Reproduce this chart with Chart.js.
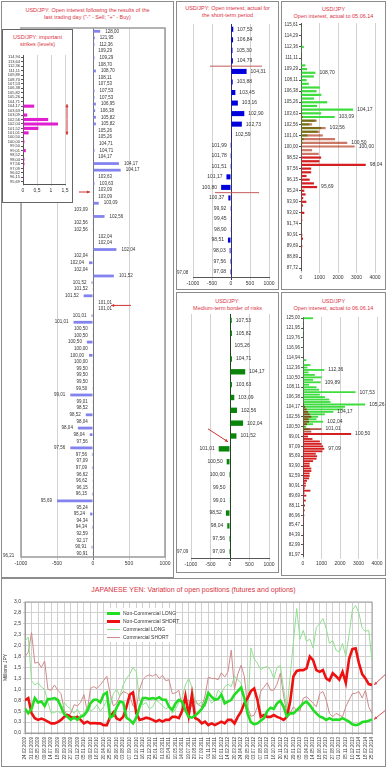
<!DOCTYPE html>
<html>
<head>
<meta charset="utf-8">
<title>USD/JPY open interest</title>
<script src="https://cdn.jsdelivr.net/npm/chart.js@4.4.1/dist/chart.umd.min.js"></script>
<style>
  html, body { margin: 0; padding: 0; background: #fff; }
  body { width: 387px; height: 768px; position: relative; overflow: hidden; font-family: "Liberation Sans", Arial, sans-serif; }
  .panel { position: absolute; border: 1px solid #8c8c8c; background: #fff; box-sizing: border-box; }
  .ttl { position: absolute; left: 0; right: 0; text-align: center; color: #d8333f; font-size: 5.5px; line-height: 6.5px; white-space: nowrap; }
  canvas { position: absolute; }
  .note { position: absolute; font-size: 4.5px; color: #333; white-space: nowrap; }
  .legend { position: absolute; left: 107px; top: 608px; width: 68px; height: 34px; background: #fff; }
  .legend div { position: absolute; left: 0; font-size: 5px; color: #333; white-space: nowrap; line-height: 6px; }
  .legend i { display: inline-block; width: 13px; vertical-align: middle; margin-right: 3px; }
</style>
</head>
<body>

<!-- panels -->
<div class="panel" style="left:1px; top:1px; width:173px; height:577px;">
  <div class="ttl" style="top:5px;">USD/JPY: Open interest following the results of the<br>last trading day ("-" - Sell; "+" - Buy)</div>
</div>
<div class="panel" style="left:176px; top:1px; width:103px; height:289px;">
  <div class="ttl" style="top:3px;">USD/JPY: Open interest, actual for<br>the short-term period</div>
</div>
<div class="panel" style="left:281px; top:1px; width:105px; height:289px;">
  <div class="ttl" style="top:4px;">USD/JPY<br>Open interest, actual to 05.06.14</div>
</div>
<div class="panel" style="left:176px; top:292px; width:103px; height:281px;">
  <div class="ttl" style="top:5px;">USD/JPY:<br>Medium-term border of risks</div>
</div>
<div class="panel" style="left:281px; top:292px; width:105px; height:284px;">
  <div class="ttl" style="top:5px;">USD/JPY<br>Open interest, actual to 06.06.14</div>
</div>
<div class="panel" style="left:1px; top:578px; width:385px; height:189px;">
  <div class="ttl" style="top:7px; font-size:7px; line-height:8px;">JAPANESE YEN: Variation of open positions (futures and options)</div>
</div>

<canvas id="oiChart" width="172" height="545" style="left:1px; top:26px;"></canvas>
<div class="note" style="left:3px; top:553px;">96,21</div>

<div class="panel" style="left:2px; top:29px; width:71px; height:174px; border-color:#666;">
  <div class="ttl" style="top:4px;">USD/JPY: important<br>strikes (levels)</div>
</div>
<canvas id="strikeChart" width="68" height="146" style="left:3px; top:50px;"></canvas>

<canvas id="shortChart" width="101" height="271" style="left:177px; top:19px;"></canvas>
<div class="note" style="left:177px; top:270px;">97,08</div>
<canvas id="oiNowChart" width="103" height="265" style="left:282px; top:19px;"></canvas>
<canvas id="mediumChart" width="101" height="262" style="left:177px; top:308px;"></canvas>
<div class="note" style="left:177px; top:549px;">97,09</div>
<canvas id="oiJuneChart" width="103" height="258" style="left:282px; top:311px;"></canvas>

<canvas id="cotChart" width="382" height="170" style="left:3px; top:596px;"></canvas>
<div class="legend">
  <div style="top:2px;"><i style="height:2.5px; background:#22dd22;"></i>Non-Commercial LONG</div>
  <div style="top:10px;"><i style="height:2.5px; background:#ee1111;"></i>Non-Commercial SHORT</div>
  <div style="top:18px;"><i style="height:1px; background:#8fe08f;"></i>Commercial LONG</div>
  <div style="top:26px;"><i style="height:1px; background:#d08a8a;"></i>Commercial SHORT</div>
</div>

<script>
// ============================================
// DATA
// ============================================
// last trading day, open interest by strike ("-" sell / "+" buy)
var oiStrikes = [
  '128,00','121,95','112,36','109,29','109,29','108,70','108,70','108,11','107,53','107,53',
  '107,53','106,95','106,38','105,82','105,82','105,26','105,26','104,71','104,71','104,17',
  '104,17','104,17','103,63','103,63','103,09','103,09','103,09','103,09','102,56','102,56',
  '102,56','102,04','102,04','102,04','102,04','102,04','102,04','101,52','101,52','101,52',
  '101,52','101,01','101,01','101,01','101,01','100,50','100,50','100,50','100,00','100,00',
  '100,00','99,50','99,50','99,50','99,50','99,01','99,01','98,52','98,52','98,04',
  '98,04','98,04','97,56','97,56','97,56','97,09','97,09','96,62','96,62','96,15',
  '96,15','95,69','95,24','95,24','94,34','94,34','92,59','92,17','90,91','90,91'
];
var oiValues = [
  100, 25, 20, 5, 20, 5, 40, 5, 5, 20,
  20, 40, 30, 40, 40, 5, 5, 15, 20, 5,
  360, 385, 5, 20, 5, 5, 80, -5, 160, -5,
  -5, 5, 5, 325, -5, -55, -5, 290, -20, -5,
  -130, 5, 5, -20, -270, -5, -5, -85, -5, -55,
  -5, -5, -5, -5, -10, -315, -5, -5, -100, -5,
  -210, -45, -5, -315, -15, -5, -15, -5, -10, -5,
  -15, -500, -5, -40, -5, -15, -5, -5, -20, -5
];

// important strikes (levels)
var isStrikes = ['114,94','113,64','112,36','111,11','109,89','108,70','107,53','106,38','105,82','105,26',
  '104,71','104,17','103,63','103,09','102,56','102,04','101,52','101,01','100,50','100,00',
  '99,50','99,01','98,52','98,04','97,56','97,09','96,62','96,15','95,69'];
var isValues = [0, 0, 0, 0, 0, 0, 0, 0, 0, 0,
  0, 0.4, 0, 0.15, 0.9, 1.25, 0.55, 0.2, 0.03, 0.05,
  0, 0.1, 0, 0.05, 0.05, 0.03, 0, 0.03, 0];

// short-term period
var stStrikes = ['107,53','106,84','105,30','104,79','104,31','103,88','103,45','103,16','102,90','102,73',
  '102,59','101,99','101,78','101,51','101,17','100,80','100,37','99,92','99,45','98,90',
  '98,51','98,03','97,56','97,08'];
var stValues = [60, 55, 40, 50, 410, 45, 115, 180, 350, 285,
  5, -5, -5, -5, -120, -260, -70, -20, -10, -10,
  -80, -35, -25, -25];

// open interest to 05.06.14 (calls / puts), axis labels every 3rd bar
var trTicks = ['115,61','114,29','112,36','111,11','109,29','108,11','106,38','105,26','103,63','102,56',
  '101,01','100,00','98,52','97,56','96,15','95,24','93,90','93,02','91,74','90,91',
  '89,69','88,89','87,72'];
var trCalls = [
  0, 10, 20, 0, 30, 0, 150, 10, 0, 30,
  60, 240, 330, 780, 700, 300, 420, 1020, 840, 1100,
  700, 1420, 870, 2820, 1090, 1820, 780, 450, 1100, 900,
  350, 150, 80, 40, 20, 10, 0, 0, 0, 0,
  0, 0, 0, 0, 0, 0, 0, 0, 0, 0,
  0, 0, 0, 0, 0, 0, 0, 0, 0, 0,
  0, 0, 0, 0, 0, 0, 0
];
var trPuts = [
  0, 0, 0, 0, 0, 0, 0, 0, 0, 0,
  0, 0, 0, 0, 0, 0, 0, 0, 0, 0,
  0, 0, 0, 40, 60, 100, 850, 600, 1330, 1000,
  1180, 1840, 2500, 2900, 600, 960, 1090, 1000, 3500, 550,
  550, 300, 470, 700, 870, 180, 250, 120, 290, 110,
  40, 180, 60, 70, 30, 50, 20, 70, 110, 30,
  70, 20, 10, 30, 10, 0, 0
];
var trNotes = [[13, '108,70'], [23, '104,17'], [25, '103,09'], [28, '102,56'],
  [32, '100,50'], [33, '100,00'], [38, '98,04'], [44, '95,69']];

// medium-term border of risks
var mtStrikes = ['107,53','105,82','105,26','104,71','104,17','103,63','103,09','102,56','102,04','101,52',
  '101,01','100,50','100,00','99,50','99,01','98,52','98,04','97,56','97,09'];
var mtValues = [45, 50, 15, 50, 390, 50, 110, 180, 335, 165,
  -290, -85, -25, -15, -15, -105, -70, -25, -25];

// open interest to 06.06.14 (calls / puts), axis labels every 4th bar
var meTicks = ['125,00','121,95','119,76','116,96','114,94','112,36','110,50','108,11','106,38','104,17',
  '102,56','100,50','99,01','97,09','95,69','93,90','92,59','90,91','89,69','88,11',
  '86,96','85,47','84,39','82,99','81,97'];
var meCalls = [
  545, 10, 0, 20, 0, 50, 0, 20, 10, 0,
  20, 0, 10, 20, 20, 0, 30, 180, 60, 400,
  240, 1150, 300, 640, 1020, 545, 960, 330, 730, 870,
  2840, 910, 1180, 1420, 1490, 3360, 2270, 2180, 1640, 1180,
  820, 730, 1090, 545, 180, 360, 60, 0, 0, 0,
  0, 0, 0, 0, 0, 0, 0, 0, 0, 0,
  0, 0, 0, 0, 0, 0, 0, 0, 0, 0,
  0, 0, 0, 0, 0, 0, 0, 0, 0, 0,
  0, 0, 0, 0, 0, 0, 0, 0, 0, 0,
  0, 0, 0, 0, 0, 0, 0
];
var mePuts = [
  0, 0, 0, 0, 0, 0, 0, 0, 0, 0,
  0, 0, 0, 0, 0, 0, 0, 0, 0, 0,
  0, 0, 0, 0, 0, 0, 0, 0, 0, 0,
  0, 0, 0, 0, 0, 60, 120, 200, 270, 360,
  450, 300, 330, 220, 90, 1000, 450, 2600, 270, 510,
  910, 1000, 1090, 1150, 1050, 690, 760, 730, 545, 360,
  360, 450, 450, 360, 360, 330, 220, 150, 150, 90,
  400, 80, 180, 60, 150, 50, 110, 40, 90, 30,
  70, 20, 50, 10, 20, 30, 10, 20, 50, 10,
  20, 10, 30, 10, 0, 10, 0
];
var meNotes = [[21, '112,36'], [26, '109,89'], [30, '107,53'], [35, '105,26'], [38, '104,17'],
  [42, '102,04'], [45, '101,01'], [47, '100,50'], [53, '97,09']];

// COT: dates on the axis, two readings per date interval
var cotDates = ['24.02.2009','31.03.2009','05.05.2009','09.06.2009','14.07.2009','18.08.2009','22.09.2009','27.10.2009','01.12.2009','05.01.2010',
  '09.02.2010','16.03.2010','20.04.2010','25.05.2010','29.06.2010','03.08.2010','07.09.2010','12.10.2010','16.11.2010','21.12.2010',
  '25.01.2011','01.03.2011','05.04.2011','10.05.2011','14.06.2011','19.07.2011','23.08.2011','27.09.2011','01.11.2011','06.12.2011',
  '10.01.2012','14.02.2012','20.03.2012','24.04.2012','29.05.2012','03.07.2012','07.08.2012','11.09.2012','16.10.2012','20.11.2012',
  '25.12.2012','29.01.2013','05.03.2013','09.04.2013','14.05.2013','18.06.2013','23.07.2013','27.08.2013','01.10.2013','05.11.2013',
  '10.12.2013','14.01.2014','18.02.2014','25.03.2014'];
var ncLong = [
  0.56, 0.45, 0.55, 0.8, 0.7, 0.72, 0.62, 0.78, 0.78, 0.8,
  0.76, 0.6, 0.43, 0.37, 0.3, 0.36, 0.3, 0.37, 0.4, 0.5,
  0.68, 0.76, 0.76, 0.7, 0.88, 0.93, 0.35, 0.4, 0.58, 0.72,
  0.7, 0.35, 0.3, 0.22, 0.35, 0.6, 0.8, 0.8, 0.78, 0.8,
  0.78, 0.82, 0.76, 0.76, 0.6, 0.53, 0.68, 0.76, 0.72, 0.52,
  0.37, 0.35, 0.4, 0.47, 0.55, 0.68, 0.92, 0.83, 0.76, 0.78,
  0.88, 0.68, 0.72, 0.76, 0.88, 0.96, 1.04, 0.8, 0.45, 0.25,
  0.2, 0.22, 0.28, 0.34, 0.5, 0.58, 0.55, 0.68, 0.74, 0.6,
  0.38, 0.45, 0.45, 0.52, 0.6, 0.68, 0.72, 0.64, 0.53, 0.45,
  0.38, 0.35, 0.3, 0.34, 0.3, 0.31, 0.3, 0.34, 0.3, 0.26,
  0.2, 0.18, 0.2, 0.25, 0.26, 0.28, 0.31
];
var ncShort = [
  0.75, 0.8, 0.45, 0.34, 0.3, 0.33, 0.3, 0.26, 0.22, 0.22,
  0.25, 0.3, 0.37, 0.41, 0.37, 0.34, 0.37, 0.3, 0.22, 0.26,
  0.22, 0.23, 0.22, 0.22, 0.18, 0.18, 0.37, 0.47, 0.33, 0.3,
  0.37, 0.6, 0.88, 0.93, 0.45, 0.3, 0.32, 0.35, 0.33, 0.3,
  0.26, 0.3, 0.26, 0.3, 0.3, 0.37, 0.37, 0.34, 0.5, 0.85,
  0.4, 0.88, 0.34, 0.3, 0.22, 0.26, 0.18, 0.22, 0.18, 0.22,
  0.26, 0.22, 0.3, 0.3, 0.22, 0.37, 0.49, 0.68, 0.8, 0.96,
  1.02, 0.76, 0.37, 0.41, 0.37, 0.37, 0.41, 0.37, 0.34, 0.3,
  0.37, 0.72, 1.3, 1.42, 1.44, 1.44, 1.48, 1.75, 1.67, 1.44,
  1.4, 1.44, 1.25, 1.2, 1.37, 1.3, 1.22, 1.4, 1.15, 1.7,
  1.92, 1.94, 1.6, 1.35, 1.25, 1.12, 1.1
];
var cLong = [
  2.1, 2.2, 1.2, 1.1, 1.15, 1.05, 1.0, 0.7, 0.45, 0.47,
  0.5, 0.45, 0.7, 0.6, 0.55, 0.45, 0.55, 0.4, 0.45, 0.6,
  0.5, 0.55, 0.65, 0.5, 0.6, 0.75, 0.62, 0.9, 1.0, 0.85,
  1.1, 1.25, 1.35, 1.5, 1.4, 0.75, 0.65, 0.7, 0.55, 0.6,
  0.75, 0.7, 0.62, 0.55, 0.6, 0.45, 0.55, 0.7, 0.8, 1.1,
  1.25, 1.05, 0.7, 0.65, 0.72, 0.6, 0.83, 0.68, 0.75, 0.98,
  0.9, 1.06, 1.12, 1.06, 1.3, 1.22, 1.15, 0.8, 0.38, 1.95,
  1.7, 1.6, 1.45, 1.5, 1.52, 1.45, 1.25, 1.5, 1.55, 1.0,
  0.55, 1.3, 2.1, 2.85, 2.15, 2.35, 2.1, 2.15, 1.95, 2.42,
  2.5, 2.62, 2.4, 2.05, 2.12, 1.9, 1.85, 2.05, 1.75, 2.25,
  2.82, 2.92, 2.75, 2.4, 2.33, 2.35, 1.65
];
var cShort = [
  1.75, 1.85, 2.3, 1.6, 1.62, 1.5, 1.65, 1.0, 0.98, 1.1,
  0.98, 0.9, 0.52, 0.4, 0.45, 0.65, 0.62, 0.7, 0.88, 0.5,
  1.02, 1.06, 1.02, 1.1, 1.2, 1.3, 0.9, 0.62, 0.68, 0.85,
  0.95, 0.92, 0.85, 0.62, 0.58, 1.0, 1.22, 1.3, 1.33, 1.3,
  1.35, 1.25, 1.32, 1.2, 1.22, 0.9, 0.92, 0.98, 0.6, 0.75,
  0.75, 0.6, 0.75, 0.65, 0.6, 0.85, 1.28, 1.25, 1.25, 1.22,
  1.38, 1.28, 1.4, 1.9, 1.0, 1.35, 1.55, 1.3, 0.6, 0.38,
  0.41, 0.6, 0.95, 1.05, 1.15, 0.98, 0.98, 1.12, 1.37, 0.85,
  0.45, 0.45, 0.6, 0.52, 0.5, 0.8, 0.83, 0.76, 0.68, 0.6,
  0.9, 0.95, 0.76, 0.45, 0.37, 0.45, 0.41, 0.37, 0.6, 0.76,
  0.9, 0.91, 0.95, 0.8, 0.98, 0.6, 0.45
];

// ============================================
// HELPERS
// ============================================
var FONT = '"Liberation Sans", Arial, sans-serif';
Chart.defaults.font.family = FONT;
Chart.defaults.color = '#333';

function fix(px) {
  return function (s) {
    if (s.isHorizontal()) { s.height = px; } else { s.width = px; }
  };
}

function plain(v) { return String(v); }

function zeroDark(dark, light) {
  return function (ctx) {
    return ctx.tick && ctx.tick.value === 0 ? dark : light;
  };
}

function arrow(c, x1, y1, x2, y2, color) {
  var ang = Math.atan2(y2 - y1, x2 - x1), h = 3.5;
  c.save();
  c.strokeStyle = color; c.fillStyle = color; c.lineWidth = 1;
  c.beginPath(); c.moveTo(x1, y1); c.lineTo(x2, y2); c.stroke();
  c.beginPath(); c.moveTo(x2, y2);
  c.lineTo(x2 - h * Math.cos(ang - 0.45), y2 - h * Math.sin(ang - 0.45));
  c.lineTo(x2 - h * Math.cos(ang + 0.45), y2 - h * Math.sin(ang + 0.45));
  c.closePath(); c.fill();
  c.restore();
}

function frameBox(color, width) {
  return {
    id: 'frameBox',
    beforeDatasetsDraw: function (chart) {
      var a = chart.chartArea, c = chart.ctx;
      c.save();
      c.strokeStyle = color; c.lineWidth = width;
      c.strokeRect(a.left, a.top, a.right - a.left, a.bottom - a.top);
      c.restore();
    }
  };
}

// text at the end of each bar (right of "+" bars, left of "-" bars)
function barLabels(getText, offset, size) {
  return {
    id: 'barLabels',
    afterDatasetsDraw: function (chart) {
      var c = chart.ctx, n = chart.data.labels.length;
      c.save();
      c.font = size + 'px ' + FONT; c.fillStyle = '#333'; c.textBaseline = 'middle';
      for (var i = 0; i < n; i++) {
        var t = getText(i);
        if (!t) continue;
        var el = null, val = 0;
        chart.data.datasets.forEach(function (ds, d) {
          var v = ds.data[i];
          if (el === null || Math.abs(v) > Math.abs(val)) {
            el = chart.getDatasetMeta(d).data[i]; val = v;
          }
        });
        if (val >= 0) { c.textAlign = 'left'; c.fillText(t, el.x + offset, el.y); }
        else { c.textAlign = 'right'; c.fillText(t, el.x - offset, el.y); }
      }
      c.restore();
    }
  };
}

function noteMap(list) {
  var m = {};
  list.forEach(function (n) { m[n[0]] = n[1]; });
  return function (i) { return m[i]; };
}

function hbarOptions(pad, xCfg, yCfg) {
  return {
    indexAxis: 'y', responsive: false, animation: false,
    layout: { padding: pad },
    plugins: { legend: { display: false }, tooltip: { enabled: false } },
    scales: { x: xCfg, y: yCfg }
  };
}

function symAxis(h, zeroColor) {
  return {
    min: -1000, max: 1000,
    ticks: { stepSize: 500, font: { size: 5 }, padding: 1, maxRotation: 0, minRotation: 0, autoSkip: false, callback: plain },
    grid: { color: zeroDark(zeroColor, '#d2d2d2'), tickLength: 3 },
    border: { display: false },
    afterFit: fix(h)
  };
}

function strikeAxis(labelsEvery, w) {
  return {
    ticks: { autoSkip: false, font: { size: 4.5 }, padding: 1 },
    grid: {
      offset: false, drawOnChartArea: false, tickLength: 2,
      color: function (ctx) { return ctx.index % labelsEvery === 0 ? '#555' : 'rgba(0,0,0,0)'; }
    },
    border: { color: '#555' },
    afterFit: fix(w)
  };
}

function oiAxis(h) {
  return {
    min: 0, max: 4000,
    ticks: { stepSize: 1000, font: { size: 5 }, padding: 2, maxRotation: 0, minRotation: 0, autoSkip: false, callback: plain },
    grid: { color: '#d2d2d2', tickLength: 3 },
    border: { display: false },
    afterFit: fix(h)
  };
}

// ============================================
// LAST TRADING DAY (big left panel)
// ============================================
var oiArrows = {
  id: 'oiArrows',
  afterDatasetsDraw: function (chart) {
    var x0 = chart.scales.x.getPixelForValue(0), ys = chart.scales.y;
    var y1 = ys.getPixelForValue(24) + 2, y2 = ys.getPixelForValue(41) + 3;
    arrow(chart.ctx, x0 - 14, y1, x0 - 3, y1, '#d03030');
    arrow(chart.ctx, x0 + 38, y2, x0 + 18, y2, '#d03030');
  }
};
new Chart(document.getElementById('oiChart'), {
  type: 'bar',
  data: {
    labels: oiStrikes,
    datasets: [{ data: oiValues, backgroundColor: '#8383ee', barPercentage: 0.42, categoryPercentage: 1 }]
  },
  options: hbarOptions({ left: 20, right: 8, top: 2, bottom: 0 }, symAxis(14, '#777'), { display: false }),
  plugins: [frameBox('#9a9a9a', 1.5), barLabels(function (i) { return oiStrikes[i]; }, 5, 4.5), oiArrows]
});

// ============================================
// IMPORTANT STRIKES (inset)
// ============================================
var levelArrow = {
  id: 'levelArrow',
  afterDatasetsDraw: function (chart) {
    var ys = chart.scales.y, x = chart.chartArea.right + 2;
    var top = ys.getPixelForValue(11) - 2, bot = ys.getPixelForValue(17) + 2;
    var mid = (top + bot) / 2;
    arrow(chart.ctx, x, mid, x, top, '#d03030');
    arrow(chart.ctx, x, mid, x, bot, '#d03030');
  }
};
new Chart(document.getElementById('strikeChart'), {
  type: 'bar',
  data: {
    labels: isStrikes,
    datasets: [{ data: isValues, backgroundColor: '#e020d0', barPercentage: 0.7, categoryPercentage: 1 }]
  },
  options: hbarOptions({ left: 0, right: 6, top: 5, bottom: 0 }, {
    min: 0, max: 1.5,
    ticks: { stepSize: 0.5, font: { size: 5 }, padding: 2, maxRotation: 0, minRotation: 0, autoSkip: false,
      callback: function (v) { return String(v).replace('.', ','); } },
    grid: { color: '#d2d2d2', tickLength: 2 },
    border: { color: '#555' },
    afterFit: fix(12)
  }, {
    ticks: { autoSkip: false, font: { size: 4 }, padding: 1 },
    grid: { offset: false, drawOnChartArea: false, tickLength: 2, color: '#555' },
    border: { color: '#555' },
    afterFit: fix(20)
  }),
  plugins: [levelArrow]
});

// ============================================
// SHORT-TERM PERIOD
// ============================================
var stBorders = {
  id: 'stBorders',
  afterDatasetsDraw: function (chart) {
    var c = chart.ctx, x0 = chart.scales.x.getPixelForValue(0), ys = chart.scales.y;
    var ya = (ys.getPixelForValue(3) + ys.getPixelForValue(4)) / 2;
    var yb = (ys.getPixelForValue(15) + ys.getPixelForValue(16)) / 2;
    c.save();
    c.strokeStyle = '#c45a5a'; c.lineWidth = 1;
    c.beginPath();
    c.moveTo(x0 - 21, ya); c.lineTo(x0 + 31, ya);
    c.moveTo(x0 - 16, yb); c.lineTo(x0 + 28, yb);
    c.stroke();
    c.restore();
  }
};
var stX = symAxis(13, '#333366');
stX.border = { display: true, color: '#555' };
new Chart(document.getElementById('shortChart'), {
  type: 'bar',
  data: {
    labels: stStrikes,
    datasets: [{ data: stValues, backgroundColor: '#0000dd', barPercentage: 0.48, categoryPercentage: 1 }]
  },
  options: hbarOptions({ left: 16, right: 9, top: 5, bottom: 0 }, stX, { display: false }),
  plugins: [barLabels(function (i) { return stStrikes[i]; }, 4, 5), stBorders]
});

// ============================================
// OPEN INTEREST 05.06.14
// ============================================
var trCats = trCalls.map(function (v, i) { return i % 3 === 0 ? trTicks[i / 3] : ''; });
new Chart(document.getElementById('oiNowChart'), {
  type: 'bar',
  data: {
    labels: trCats,
    datasets: [
      { data: trPuts, grouped: false, barPercentage: 0.6, categoryPercentage: 1,
        backgroundColor: trPuts.map(function (v, i) { return trCalls[i] > 0 ? 'rgba(170,30,0,0.6)' : '#d42020'; }) },
      { data: trCalls, grouped: false, barPercentage: 0.6, categoryPercentage: 1, backgroundColor: '#3fdc3f' }
    ]
  },
  options: hbarOptions({ left: 0, right: 10, top: 4, bottom: 0 }, oiAxis(14), strikeAxis(3, 19)),
  plugins: [barLabels(noteMap(trNotes), 4, 5)]
});

// ============================================
// MEDIUM-TERM BORDER OF RISKS
// ============================================
var mtArrow = {
  id: 'mtArrow',
  afterDatasetsDraw: function (chart) {
    var x0 = chart.scales.x.getPixelForValue(0), y = chart.scales.y.getPixelForValue(10);
    arrow(chart.ctx, x0 - 22, y - 20, x0 - 2, y - 7, '#d03030');
  }
};
var mtX = symAxis(12, '#224422');
mtX.border = { display: true, color: '#555' };
new Chart(document.getElementById('mediumChart'), {
  type: 'bar',
  data: {
    labels: mtStrikes,
    datasets: [{ data: mtValues, backgroundColor: '#0a840a', barPercentage: 0.42, categoryPercentage: 1 }]
  },
  options: hbarOptions({ left: 14, right: 9, top: 6, bottom: 0 }, mtX, { display: false }),
  plugins: [barLabels(function (i) { return mtStrikes[i]; }, 4, 5), mtArrow]
});

// ============================================
// OPEN INTEREST 06.06.14
// ============================================
var meCats = meCalls.map(function (v, i) { return i % 4 === 0 ? meTicks[i / 4] : ''; });
new Chart(document.getElementById('oiJuneChart'), {
  type: 'bar',
  data: {
    labels: meCats,
    datasets: [
      { data: mePuts, grouped: false, barPercentage: 0.75, categoryPercentage: 1,
        backgroundColor: mePuts.map(function (v, i) { return meCalls[i] > 0 ? 'rgba(150,20,0,0.7)' : '#d42020'; }) },
      { data: meCalls, grouped: false, barPercentage: 0.75, categoryPercentage: 1, backgroundColor: '#3fdc3f' }
    ]
  },
  options: hbarOptions({ left: 0, right: 8, top: 6, bottom: 0 }, oiAxis(13), strikeAxis(4, 21)),
  plugins: [barLabels(noteMap(meNotes), 4, 5)]
});

// ============================================
// JAPANESE YEN: COT POSITIONS
// ============================================
function pts(arr) {
  return arr.map(function (v, i) { return { x: i / 2, y: v }; });
}
var cotArrows = {
  id: 'cotArrows',
  afterDatasetsDraw: function (chart) {
    var xs = chart.scales.x, ys = chart.scales.y, x = xs.getPixelForValue(cotDates.length - 1) + 2;
    var yShort = ys.getPixelForValue(ncShort[ncShort.length - 1]);
    var yLong = ys.getPixelForValue(ncLong[ncLong.length - 1]);
    arrow(chart.ctx, x + 14, yShort - 13, x, yShort, '#d05050');
    arrow(chart.ctx, x + 15, yLong - 12, x, yLong, '#d05050');
  }
};
new Chart(document.getElementById('cotChart'), {
  type: 'line',
  data: {
    datasets: [
      { label: 'Non-Commercial LONG', data: pts(ncLong), borderColor: '#22dd22', borderWidth: 2.6 },
      { label: 'Non-Commercial SHORT', data: pts(ncShort), borderColor: '#ee1111', borderWidth: 2.6 },
      { label: 'Commercial LONG', data: pts(cLong), borderColor: '#8fe08f', borderWidth: 1 },
      { label: 'Commercial SHORT', data: pts(cShort), borderColor: '#d08a8a', borderWidth: 1 }
    ]
  },
  options: {
    responsive: false, animation: false,
    elements: { point: { radius: 0 }, line: { tension: 0 } },
    layout: { padding: { left: 0, right: 13, top: 6, bottom: 0 } },
    plugins: { legend: { display: false }, tooltip: { enabled: false } },
    scales: {
      x: {
        type: 'linear', min: 0, max: cotDates.length - 1,
        ticks: {
          stepSize: 1, autoSkip: false, maxRotation: 90, minRotation: 90, font: { size: 4.5 }, padding: 2,
          callback: function (v) { return cotDates[v] || ''; }
        },
        grid: { color: '#d0d0d0', tickLength: 2 },
        border: { color: '#999' },
        afterFit: fix(33)
      },
      y: {
        min: 0, max: 3,
        ticks: { stepSize: 0.25, font: { size: 5 }, padding: 2, callback: function (v) { return v.toFixed(1).replace('.', ','); } },
        grid: { color: '#d0d0d0', tickLength: 2 },
        border: { color: '#999' },
        title: { display: true, text: 'Millions JPY', font: { size: 5 }, padding: 0 },
        afterFit: fix(22)
      }
    }
  },
  plugins: [frameBox('#a0a0a0', 1), cotArrows]
});
</script>
</body>
</html>
